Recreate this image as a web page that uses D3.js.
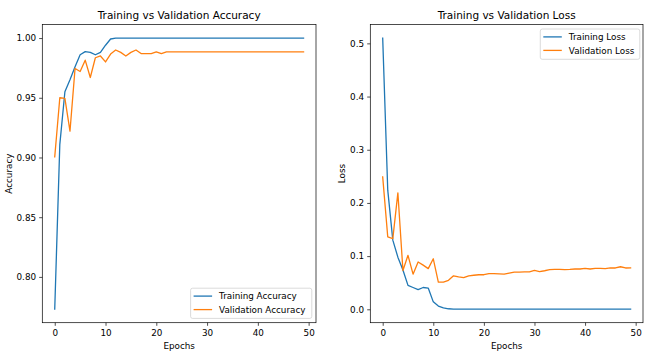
<!DOCTYPE html>
<html><head><meta charset="utf-8">
<script src="https://cdn.jsdelivr.net/npm/d3@7"></script>
<style>body{margin:0;background:#fff}svg{display:block;font-family:"DejaVu Sans",sans-serif}</style>
</head><body><svg id="c" width="658" height="356"></svg>
<script>
const epochs = d3.range(50);
const trainAcc = [0.773,0.911,0.955,0.965,0.976,0.986,0.9886,0.988,0.986,0.988,0.994,0.9992,
  1,1,1,1,1,1,1,1,1,1,1,1,1,1,1,1,1,1,1,1,1,1,1,1,1,1,1,1,1,1,1,1,1,1,1,1,1,1];
const valAcc = [0.9005,0.950,0.9495,0.922,0.9745,0.972,0.9815,0.967,0.9835,0.985,0.980,0.9866,0.990,0.988,0.985,0.988,0.990,0.987,0.987,0.987,
  0.9885,0.987,0.9885,0.9885,0.9885,0.9885,0.9885,0.9885,0.9885,0.9885,0.9885,0.9885,0.9885,0.9885,0.9885,0.9885,0.9885,0.9885,0.9885,0.9885,
  0.9885,0.9885,0.9885,0.9885,0.9885,0.9885,0.9885,0.9885,0.9885,0.9885];
const trainLoss = [0.510,0.224,0.130,0.098,0.074,0.045,0.041,0.037,0.041,0.040,0.014,0.006,0.0025,0.001,0.0005,
  0.0003,0.0003,0.0003,0.0003,0.0003,0.0003,0.0003,0.0003,0.0003,0.0003,0.0003,0.0003,0.0003,0.0003,0.0003,
  0.0003,0.0003,0.0003,0.0003,0.0003,0.0003,0.0003,0.0003,0.0003,0.0003,0.0003,0.0003,0.0003,0.0003,0.0003,0.0003,0.0003,0.0003,0.0003,0.0003];
const valLoss = [0.249,0.136,0.133,0.219,0.073,0.1015,0.066,0.089,0.083,0.0765,0.095,0.051,0.051,0.0545,0.063,0.061,0.0595,0.063,0.064,0.065,
  0.065,0.067,0.067,0.0665,0.066,0.068,0.070,0.070,0.0705,0.0705,0.073,0.071,0.0725,0.0745,0.075,0.075,0.0745,0.075,0.0758,0.0758,
  0.077,0.0758,0.077,0.077,0.0765,0.0777,0.0777,0.080,0.0777,0.078];
const xTicks = [0,10,20,30,40,50];
const accTicks = [0.80,0.85,0.90,0.95,1.00];
const lossTicks = [0.0,0.1,0.2,0.3,0.4,0.5];
const seriesColors = ["#1f77b4","#ff7f0e"];

const svg = d3.select("#c");
const FS = 8.8;

function panel(o){
  const g = svg.append("g");
  const x = d3.scaleLinear().domain([-2.45,51.45]).range([o.x0,o.x1]);
  const all = o.series.flatMap(s=>s.values);
  const [mn,mx] = d3.extent(all);
  const pad = (mx-mn)*0.05;
  const y = d3.scaleLinear().domain([mn-pad,mx+pad]).range([o.y1,o.y0]);
  const line = d3.line().x((d,i)=>x(epochs[i])).y(d=>y(d));
  const plot = g.append("g");
  o.series.forEach((s,i)=>{
    plot.append("path").datum(s.values).attr("d",line).attr("fill","none")
      .attr("stroke",seriesColors[i]).attr("stroke-width",1.3).attr("stroke-linejoin","round").attr("stroke-linecap","square");
  });
  g.append("rect").attr("x",o.x0).attr("y",o.y0).attr("width",o.x1-o.x0).attr("height",o.y1-o.y0)
    .attr("fill","none").attr("stroke","#000").attr("stroke-width",0.7);
  const xa = g.append("g").attr("transform",`translate(0,${o.y1})`)
    .call(d3.axisBottom(x).tickValues(xTicks).tickFormat(d3.format("d")).tickSize(3.1).tickPadding(4.3));
  const ya = g.append("g").attr("transform",`translate(${o.x0},0)`)
    .call(d3.axisLeft(y).tickValues(o.yTicks).tickFormat(o.fmt).tickSize(3.1).tickPadding(3.1));
  [xa,ya].forEach(a=>{
    a.select(".domain").remove();
    a.selectAll("line").attr("stroke","#000").attr("stroke-width",0.7);
    a.selectAll("text").attr("font-size",FS).attr("font-family","DejaVu Sans").attr("fill","#000");
  });
  g.append("text").attr("x",(o.x0+o.x1)/2).attr("y",19.3).attr("text-anchor","middle")
    .attr("font-size",10.5).text(o.title);
  g.append("text").attr("x",(o.x0+o.x1)/2).attr("y",348.8).attr("text-anchor","middle")
    .attr("font-size",FS).text("Epochs");
  g.append("text").attr("transform",`translate(${o.ylabX},${(o.y0+o.y1)/2}) rotate(-90)`)
    .attr("text-anchor","middle").attr("font-size",FS).text(o.ylabel);
  const L = o.legend;
  const lg = g.append("g");
  lg.append("rect").attr("x",L.x).attr("y",L.y).attr("width",L.w).attr("height",L.h).attr("rx",2)
    .attr("fill","#fff").attr("fill-opacity",0.8).attr("stroke","#cccccc").attr("stroke-width",0.7);
  o.series.forEach((s,i)=>{
    const yy = L.y + 7.9 + i*13.5;
    lg.append("line").attr("x1",L.x+3).attr("x2",L.x+21.5).attr("y1",yy).attr("y2",yy)
      .attr("stroke",seriesColors[i]).attr("stroke-width",1.3);
    lg.append("text").attr("x",L.x+28.5).attr("y",yy).attr("dy","0.36em").attr("font-size",FS).text(s.name);
  });
}

panel({x0:42.3,x1:316,y0:24.5,y1:322.7,title:"Training vs Validation Accuracy",ylabel:"Accuracy",ylabX:11.7,
  yTicks:accTicks,fmt:d3.format(".2f"),
  series:[{name:"Training Accuracy",values:trainAcc},{name:"Validation Accuracy",values:valAcc}],
  legend:{x:190.6,y:288.2,w:121.2,h:30.2}});
panel({x0:370.3,x1:643,y0:24.5,y1:322.7,title:"Training vs Validation Loss",ylabel:"Loss",ylabX:344.7,
  yTicks:lossTicks,fmt:d3.format(".1f"),
  series:[{name:"Training Loss",values:trainLoss},{name:"Validation Loss",values:valLoss}],
  legend:{x:540.3,y:29,w:99.5,h:30.3}});
</script></body></html>
